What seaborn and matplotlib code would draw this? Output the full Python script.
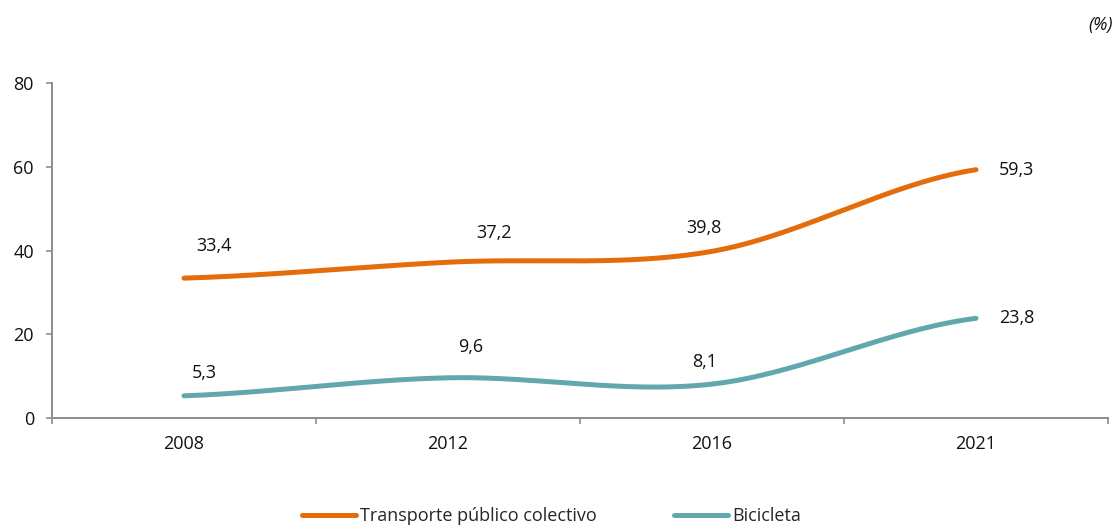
import numpy as np
import pandas as pd
import matplotlib
matplotlib.use("Agg")
import matplotlib.pyplot as plt
from matplotlib.lines import Line2D
import seaborn as sns

# --- data -----------------------------------------------------------------
years = ["2008", "2012", "2016", "2021"]
transporte = [33.4, 37.2, 39.8, 59.3]
bicicleta = [5.3, 9.6, 8.1, 23.8]
series_names = ["Transporte público colectivo", "Bicicleta"]
y_ticks = [0, 20, 40, 60, 80]

# --- styling --------------------------------------------------------------
sns.set_theme(style="white")
plt.rcParams["font.family"] = ["Open Sans", "DejaVu Sans"]
colors = ["#E46C0A", "#62A7AE"]
axis_grey = "#8C8C8C"
text_col = "#111111"
FS = 13

# label offsets (pixels: right, up) relative to each point, per series
label_offsets = [
    [(30, 32), (46, 29), (-8, 23), (41, 0)],
    [(20, 23), (23, 31), (-7, 22), (41, 0)],
]


def smooth(values, n=60):
    """Catmull-Rom style smoothing between category positions."""
    p = np.asarray(values, dtype=float)
    k = len(p)
    m = np.empty(k)
    for i in range(k):
        a = p[max(i - 1, 0)]
        b = p[min(i + 1, k - 1)]
        m[i] = (b - a) / 2.0
    xs, ys = [], []
    for i in range(k - 1):
        t = np.linspace(0, 1, n, endpoint=(i == k - 2))
        h00 = 2 * t**3 - 3 * t**2 + 1
        h10 = t**3 - 2 * t**2 + t
        h01 = -2 * t**3 + 3 * t**2
        h11 = t**3 - t**2
        ys.append(h00 * p[i] + h10 * m[i] + h01 * p[i + 1] + h11 * m[i + 1])
        xs.append(i + t)
    return np.concatenate(xs), np.concatenate(ys)


fig = plt.figure(figsize=(11.17, 5.26), dpi=100)
ax = fig.add_axes([52 / 1117, 108 / 526, 1056 / 1117, 335 / 526])

frames = []
for name, vals in zip(series_names, [transporte, bicicleta]):
    sx, sy = smooth(vals)
    frames.append(pd.DataFrame({"x": sx, "y": sy, "serie": name}))
df = pd.concat(frames, ignore_index=True)

sns.lineplot(data=df, x="x", y="y", hue="serie", palette=colors, sort=False,
             linewidth=3.6, ax=ax, legend=False,
             solid_capstyle="round", estimator=None)

# value labels
px2pt = 72 / 100
for vals, offs in zip([transporte, bicicleta], label_offsets):
    for i, (v, (dx, dy)) in enumerate(zip(vals, offs)):
        ax.annotate(f"{v:.1f}".replace(".", ","), xy=(i, v),
                    xytext=(dx * px2pt, dy * px2pt), textcoords="offset points",
                    ha="center", va="center", fontsize=FS, color=text_col)

# axes
ax.set_xlim(-0.5, len(years) - 0.5)
ax.set_ylim(0, 80)
ax.set_yticks(y_ticks)
ax.set_xticks(range(len(years)))
ax.set_xticklabels(years)
ax.set_xticks(np.arange(-0.5, len(years), 1.0), minor=True)
ax.tick_params(axis="x", which="major", length=0, pad=12.5, labelsize=FS,
               labelcolor=text_col)
ax.tick_params(axis="x", which="minor", length=4.5, width=1.2,
               color=axis_grey, direction="out", bottom=True)
ax.tick_params(axis="y", length=4.5, width=1.2, color=axis_grey, pad=8.5,
               labelsize=FS, labelcolor=text_col, left=True)
for side in ["top", "right"]:
    ax.spines[side].set_visible(False)
for side in ["left", "bottom"]:
    ax.spines[side].set_color(axis_grey)
    ax.spines[side].set_linewidth(1.4)
ax.set_xlabel("")
ax.set_ylabel("")
ax.grid(False)

# unit note
fig.text(1113 / 1117, 1 - 25 / 526, "(%)", ha="right", va="center",
         fontsize=FS, style="italic", color=text_col)

# legend
handles = [Line2D([0], [0], color=c, lw=3.6, solid_capstyle="round") for c in colors]
fig.legend(handles, series_names, loc="center", ncol=2,
           bbox_to_anchor=(0.5 - 7 / 1117, 1 - 516 / 526), frameon=False,
           fontsize=FS, handlelength=3.0, handletextpad=0.2, columnspacing=4.3,
           borderaxespad=0)

fig.savefig("out.png", dpi=100)
